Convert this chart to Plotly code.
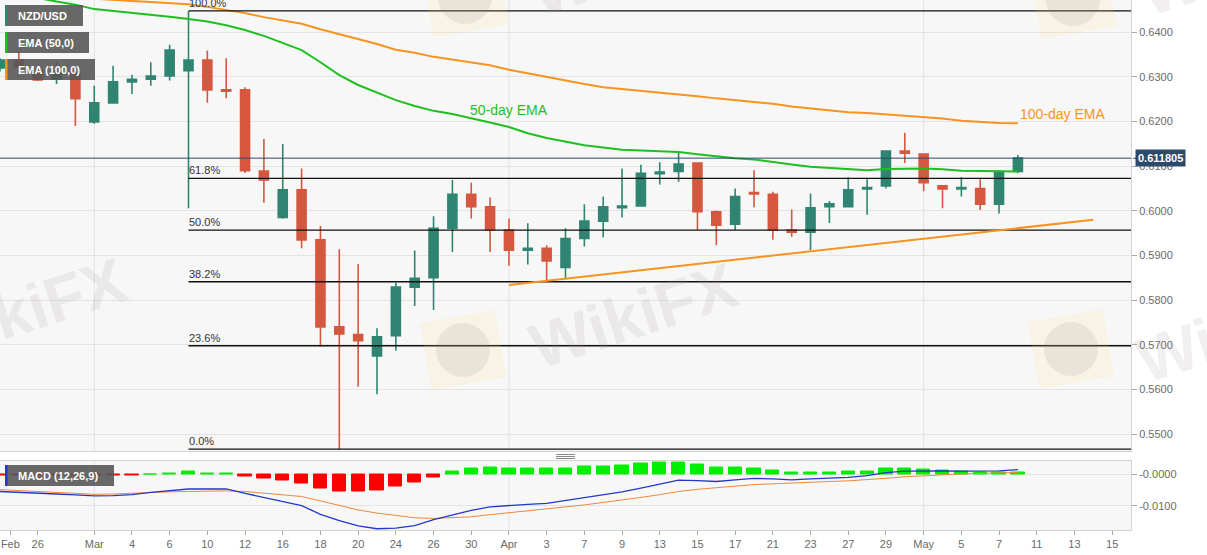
import math
import pandas as pd
import plotly.graph_objects as go

# ---------------- data ----------------
dates = [
    "2020-02-24", "2020-02-25", "2020-02-26", "2020-02-27", "2020-02-28",
    "2020-03-02", "2020-03-03", "2020-03-04", "2020-03-05", "2020-03-06",
    "2020-03-09", "2020-03-10", "2020-03-11", "2020-03-12", "2020-03-13",
    "2020-03-16", "2020-03-17", "2020-03-18", "2020-03-19", "2020-03-20",
    "2020-03-23", "2020-03-24", "2020-03-25", "2020-03-26", "2020-03-27",
    "2020-03-30", "2020-03-31", "2020-04-01", "2020-04-02", "2020-04-03",
    "2020-04-06", "2020-04-07", "2020-04-08", "2020-04-09", "2020-04-10",
    "2020-04-13", "2020-04-14", "2020-04-15", "2020-04-16", "2020-04-17",
    "2020-04-20", "2020-04-21", "2020-04-22", "2020-04-23", "2020-04-24",
    "2020-04-27", "2020-04-28", "2020-04-29", "2020-04-30", "2020-05-01",
    "2020-05-04", "2020-05-05", "2020-05-06", "2020-05-07", "2020-05-08",
]
open_ = [
    0.6320, 0.6338, 0.6314, 0.6295, 0.6311,
    0.6199, 0.6242, 0.6289, 0.6295, 0.6302,
    0.6314, 0.6338, 0.6271, 0.6271, 0.6089,
    0.5985, 0.6047, 0.5935, 0.5740, 0.5723,
    0.5675, 0.5720, 0.5829, 0.5850, 0.5961,
    0.6037, 0.6009, 0.5957, 0.5912, 0.5916,
    0.5873, 0.5938, 0.5977, 0.6007, 0.6011,
    0.6083, 0.6088, 0.6107, 0.5998, 0.5970,
    0.6041, 0.6037, 0.5957, 0.5952, 0.6009,
    0.6009, 0.6049, 0.6056, 0.6134, 0.6127,
    0.6056, 0.6049, 0.6050, 0.6015, 0.6088,
]
high_ = [
    0.6342, 0.6357, 0.6318, 0.6334, 0.6313,
    0.6280, 0.6325, 0.6305, 0.6333, 0.6372,
    0.6448, 0.6359, 0.6342, 0.6277, 0.6161,
    0.6150, 0.6095, 0.5966, 0.5914, 0.5881,
    0.5737, 0.5839, 0.5911, 0.5988, 0.6069,
    0.6063, 0.6030, 0.5983, 0.5972, 0.5923,
    0.5961, 0.6015, 0.6032, 0.6095, 0.6103,
    0.6109, 0.6130, 0.6109, 0.6001, 0.6050,
    0.6091, 0.6043, 0.6003, 0.6039, 0.6022,
    0.6075, 0.6071, 0.6136, 0.6175, 0.6128,
    0.6058, 0.6075, 0.6071, 0.6091, 0.6125,
]
low_ = [
    0.6312, 0.6316, 0.6291, 0.6284, 0.6190,
    0.6195, 0.6240, 0.6262, 0.6280, 0.6292,
    0.6006, 0.6242, 0.6252, 0.6085, 0.6018,
    0.5982, 0.5916, 0.5696, 0.5466, 0.5606,
    0.5589, 0.5687, 0.5787, 0.5778, 0.5908,
    0.5983, 0.5908, 0.5877, 0.5880, 0.5845,
    0.5849, 0.5920, 0.5941, 0.5985, 0.6010,
    0.6059, 0.6065, 0.5957, 0.5923, 0.5957,
    0.6008, 0.5935, 0.5942, 0.5912, 0.5973,
    0.6008, 0.5991, 0.6050, 0.6107, 0.6044,
    0.6006, 0.6032, 0.6002, 0.5994, 0.6084,
]
close_ = [
    0.6338, 0.6323, 0.6293, 0.6312, 0.6251,
    0.6242, 0.6289, 0.6295, 0.6302, 0.6360,
    0.6338, 0.6271, 0.6268, 0.6090, 0.6069,
    0.6047, 0.5935, 0.5740, 0.5724, 0.5709,
    0.5718, 0.5829, 0.5849, 0.5961, 0.6037,
    0.6009, 0.5957, 0.5912, 0.5916, 0.5888,
    0.5938, 0.5977, 0.6009, 0.6011, 0.6084,
    0.6087, 0.6105, 0.5998, 0.5968, 0.6032,
    0.6038, 0.5957, 0.5952, 0.6007, 0.6016,
    0.6047, 0.6052, 0.6134, 0.6129, 0.6063,
    0.6049, 0.6052, 0.6015, 0.6088, 0.611805,
]
ema50 = [
    0.6490, 0.6484, 0.6477, 0.6469, 0.6462,
    0.6452, 0.6448, 0.6444, 0.6440, 0.6435,
    0.6430, 0.6424, 0.6416, 0.6405, 0.6392,
    0.6376, 0.6360, 0.6333, 0.6304, 0.6282,
    0.6265, 0.6248, 0.6235, 0.6224, 0.6217,
    0.6208, 0.6198, 0.6188, 0.6174, 0.6163,
    0.6155, 0.6147, 0.6142, 0.6137, 0.6135,
    0.6133, 0.6132, 0.6127, 0.6122, 0.6118,
    0.6115, 0.6109, 0.6104, 0.6099, 0.6096,
    0.6094, 0.6091, 0.6094, 0.6095, 0.6095,
    0.6093, 0.6090, 0.6089, 0.6088, 0.6088,
]
ema100 = [
    0.6492, 0.6489, 0.6485, 0.6482, 0.6478,
    0.6475, 0.6473, 0.6470, 0.6468, 0.6466,
    0.6463, 0.6457, 0.6450, 0.6443, 0.6434,
    0.6426, 0.6419, 0.6407, 0.6396, 0.6385,
    0.6374, 0.6361, 0.6354, 0.6345, 0.6339,
    0.6333, 0.6326, 0.6316, 0.6308, 0.6299,
    0.6291, 0.6284, 0.6277, 0.6273, 0.6270,
    0.6266, 0.6262, 0.6257, 0.6252, 0.6248,
    0.6245, 0.6240, 0.6234, 0.6230, 0.6226,
    0.6221, 0.6219, 0.6216, 0.6214, 0.6210,
    0.6207, 0.6202, 0.6199, 0.6197, 0.6196,
]
macd_line = [
    -0.0054, -0.0056, -0.0059, -0.0062, -0.0065,
    -0.0068, -0.0067, -0.0064, -0.0057, -0.0052,
    -0.0046, -0.0046, -0.0046, -0.0060, -0.0073,
    -0.0084, -0.0099, -0.0127, -0.0147, -0.0164,
    -0.0173, -0.0171, -0.0163, -0.0144, -0.0128,
    -0.0114, -0.0103, -0.0098, -0.0095, -0.0092,
    -0.0083, -0.0073, -0.0064, -0.0055, -0.0043,
    -0.0030, -0.0018, -0.0019, -0.0022, -0.0017,
    -0.0012, -0.0014, -0.0017, -0.0014, -0.0012,
    -0.0009, -0.0003, 0.0006, 0.0011, 0.0012,
    0.0012, 0.0011, 0.0011, 0.0012, 0.0016,
]
signal_line = [
    -0.0048, -0.0051, -0.0054, -0.0057, -0.0060,
    -0.0063, -0.0062, -0.0059, -0.0057, -0.0055,
    -0.0054, -0.0052, -0.0052, -0.0054, -0.0059,
    -0.0063, -0.0070, -0.0084, -0.0099, -0.0113,
    -0.0123, -0.0131, -0.0138, -0.0140, -0.0138,
    -0.0135, -0.0128, -0.0122, -0.0117, -0.0111,
    -0.0105, -0.0097, -0.0089, -0.0082, -0.0073,
    -0.0064, -0.0054, -0.0047, -0.0041, -0.0037,
    -0.0032, -0.0029, -0.0026, -0.0023, -0.0022,
    -0.0020, -0.0017, -0.0012, -0.0007, -0.0003,
    -0.0001, 0.0002, 0.0004, 0.0006, 0.0007,
]
macd_hist = [
    -0.0003, -0.0003, -0.0003, -0.0003, -0.0003,
    -0.0003, -0.0003, -0.0003, 0.0000, 0.0005,
    0.0009, 0.0005, 0.0005, -0.0006, -0.0014,
    -0.0019, -0.0028, -0.0043, -0.0053, -0.0054,
    -0.0050, -0.0039, -0.0026, -0.0008, 0.0009,
    0.0019, 0.0022, 0.0021, 0.0020, 0.0018,
    0.0020, 0.0025, 0.0027, 0.0029, 0.0034,
    0.0038, 0.0039, 0.0031, 0.0024, 0.0023,
    0.0020, 0.0013, 0.0008, 0.0008, 0.0008,
    0.0009, 0.0010, 0.0018, 0.0019, 0.0016,
    0.0012, 0.0009, 0.0007, 0.0007, 0.0008,
]
fib_ratios = [1.0, 0.618, 0.5, 0.382, 0.236, 0.0]
fib_labels = ["100.0%", "61.8%", "50.0%", "38.2%", "23.6%", "0.0%"]
trend_dates = ["2020-04-01", "2020-05-14"]
trend_values = [0.5834, 0.5980]
tick_dates = [
    "2020-02-24", "2020-02-26", "2020-03-02", "2020-03-04", "2020-03-06",
    "2020-03-10", "2020-03-12", "2020-03-16", "2020-03-18", "2020-03-20",
    "2020-03-24", "2020-03-26", "2020-03-30", "2020-04-01", "2020-04-03",
    "2020-04-07", "2020-04-09", "2020-04-13", "2020-04-15", "2020-04-17",
    "2020-04-21", "2020-04-23", "2020-04-27", "2020-04-29", "2020-05-01",
    "2020-05-05", "2020-05-07", "2020-05-11", "2020-05-13", "2020-05-15",
]
month_starts = ["2020-03-02", "2020-04-01", "2020-05-01"]
legend_labels = ["NZD/USD", "EMA (50,0)", "EMA (100,0)"]
macd_label = "MACD (12,26,9)"

# ---------------- styles ----------------
GREEN_C = "#2f8571"
RED_C = "#d6573f"
EMA50_C = "#1fbf1f"
ORANGE = "#f7931e"
MACD_BLUE = "#2438c8"
SIG_OR = "#f0883a"
HIST_G = "#00ee00"
HIST_R = "#ff0000"
BG = "#f7f7f7"
GRID = "#e4e4e4"
AXLINE = "#d2d2d2"
TXT = "#6a6a6a"
FONT = "Liberation Sans, Arial, sans-serif"

W, H = 1207, 555
ML, MR, MT, MB = 0, 76, 0, 25
PW, PH = W - ML - MR, H - MT - MB


def pp(xp, yp):
    return xp / PW, 1 - yp / PH


# ---------------- trading-day axis ----------------
cal = pd.bdate_range("2020-02-24", "2020-05-15")
pos = {d.strftime("%Y-%m-%d"): i for i, d in enumerate(cal)}
x = [pos[d] for d in dates]

tick_vals, tick_text = [], []
for d in tick_dates:
    ts = pd.Timestamp(d)
    first = min(c for c in cal if c.month == ts.month)
    tick_text.append(ts.strftime("%b") if ts == first else str(ts.day))
    tick_vals.append(pos[d] + (0.55 if pos[d] == 0 else 0))

fig = go.Figure()

# candles
fig.add_trace(go.Candlestick(
    x=x, open=open_, high=high_, low=low_, close=close_,
    increasing=dict(line=dict(color=GREEN_C, width=1.6), fillcolor=GREEN_C),
    decreasing=dict(line=dict(color=RED_C, width=1.6), fillcolor=RED_C),
    whiskerwidth=0, hoverinfo="skip", showlegend=False, xaxis="x", yaxis="y"))

# EMAs
fig.add_trace(go.Scatter(x=x, y=ema100, mode="lines", line=dict(color=ORANGE, width=2),
                         hoverinfo="skip", showlegend=False))
fig.add_trace(go.Scatter(x=x, y=ema50, mode="lines", line=dict(color=EMA50_C, width=2),
                         hoverinfo="skip", showlegend=False))

# Fibonacci retracement
hi = max(high_)
lo = min(low_)
x_hi = x[high_.index(hi)]
x_end = len(cal)
for r, lab in zip(fib_ratios, fib_labels):
    lvl = lo + r * (hi - lo)
    fig.add_trace(go.Scatter(x=[x_hi, x_end], y=[lvl, lvl], mode="lines",
                             line=dict(color="#111111", width=1.3),
                             hoverinfo="skip", showlegend=False))
    fig.add_annotation(x=x_hi, y=lvl, xref="x", yref="y", text=lab, showarrow=False,
                       xanchor="left", yanchor="bottom", xshift=-2, yshift=0,
                       font=dict(size=11, color="#333333", family=FONT))

# trend line
fig.add_trace(go.Scatter(x=[pos[d] for d in trend_dates], y=trend_values, mode="lines",
                         line=dict(color=ORANGE, width=2), hoverinfo="skip", showlegend=False))

# MACD panel
fig.add_trace(go.Scatter(x=x, y=signal_line, mode="lines", line=dict(color=SIG_OR, width=1),
                         xaxis="x2", yaxis="y2", hoverinfo="skip", showlegend=False))
fig.add_trace(go.Scatter(x=x, y=macd_line, mode="lines", line=dict(color=MACD_BLUE, width=1.3),
                         xaxis="x2", yaxis="y2", hoverinfo="skip", showlegend=False))
hcol = [HIST_G if v >= 0 else HIST_R for v in macd_hist]
fig.add_trace(go.Bar(x=x, y=macd_hist, width=0.7,
                     marker=dict(color=hcol, line=dict(color=hcol, width=1)),
                     xaxis="x2", yaxis="y2", hoverinfo="skip", showlegend=False))

# ---------------- layout ----------------
main_dom = [1 - 451 / PH, 1]
macd_dom = [0, 1 - 460.5 / PH]
tickfont = dict(size=11, color=TXT, family=FONT)

fig.update_layout(
    width=W, height=H, margin=dict(l=ML, r=MR, t=MT, b=MB),
    paper_bgcolor="white", plot_bgcolor=BG, boxgap=0.32, bargap=0,
    showlegend=False, hovermode=False,
    font=dict(family=FONT, size=11, color=TXT),
    xaxis=dict(domain=[0, 1], range=[0, x_end], anchor="y", showticklabels=False, ticks="",
               showgrid=False, zeroline=False, rangeslider=dict(visible=False),
               showline=True, mirror=True, linecolor=AXLINE),
    xaxis2=dict(domain=[0, 1], matches="x", anchor="y2", tickmode="array",
                tickvals=tick_vals, ticktext=tick_text, ticks="outside", ticklen=4,
                tickcolor="#aaaaaa", showgrid=False, zeroline=False, showline=True,
                mirror=True, linecolor=AXLINE, tickfont=tickfont, ticklabeloverflow="allow"),
    yaxis=dict(domain=main_dom, range=[0.54619, 0.64724], side="right", tickmode="linear",
               tick0=0.55, dtick=0.01, tickformat=".4f", ticks="outside", ticklen=5,
               tickcolor="#aaaaaa", gridcolor=GRID, zeroline=False, showline=True,
               mirror=True, linecolor=AXLINE, tickfont=tickfont),
    yaxis2=dict(domain=macd_dom, range=[-0.0177, 0.0045], side="right", tickmode="array",
                tickvals=[0, -0.01], ticktext=["-0.0000", "-0.0100"], ticks="outside",
                ticklen=5, tickcolor="#aaaaaa", gridcolor=GRID, zeroline=False,
                showline=True, mirror=True, linecolor=AXLINE, tickfont=tickfont),
)

shapes = []
# month separators
for d in month_starts:
    for yr in ("y domain", "y2 domain"):
        shapes.append(dict(type="line", xref="x", yref=yr, x0=pos[d], x1=pos[d], y0=0, y1=1,
                           line=dict(color="#e2e2e2", width=1), layer="below"))

# current price line and tag
last_price = close_[-1]
shapes.append(dict(type="line", xref="paper", yref="y", x0=0, x1=1, y0=last_price,
                   y1=last_price, line=dict(color="#2c4a6b", width=1)))
fig.add_annotation(x=1, y=last_price, xref="paper", yref="y", xanchor="left", xshift=4,
                   text=f"<b>{last_price:.6f}</b>", showarrow=False, bgcolor="#2d4a6b",
                   borderpad=2, font=dict(size=11, color="white", family=FONT))
tx0 = 1131.5 / PW
tx1 = 1136 / PW
shapes.append(dict(type="path", xref="paper", yref="y",
                   path=f"M {tx0},{last_price} L {tx1},{last_price + 0.00017} L {tx1},{last_price - 0.00017} Z",
                   fillcolor="#2d4a6b", line=dict(width=0)))

# legend boxes (top-left) and MACD box
boxes = [(legend_labels[0], 5, 83, 5, 26, GREEN_C),
         (legend_labels[1], 5, 89, 32, 53, EMA50_C),
         (legend_labels[2], 5, 95, 59, 80, ORANGE),
         (macd_label, 5, 114, 465, 486, MACD_BLUE)]
for txt, bx0, bx1, by0, by1, bc in boxes:
    ax0, ay0 = pp(bx0, by0)
    ax1, ay1 = pp(bx1, by1)
    shapes.append(dict(type="rect", xref="paper", yref="paper", x0=ax0, x1=ax1, y0=ay1, y1=ay0,
                       fillcolor="rgba(88,88,88,0.9)", line=dict(width=0), layer="above"))
    cx0, _ = pp(bx0 + 2.5, 0)
    shapes.append(dict(type="rect", xref="paper", yref="paper", x0=ax0, x1=cx0, y0=ay1, y1=ay0,
                       fillcolor=bc, line=dict(width=0), layer="above"))
    tx, ty = pp(bx0 + 11, (by0 + by1) / 2)
    fig.add_annotation(x=tx, y=ty, xref="paper", yref="paper", xanchor="left", yanchor="middle",
                       text=f"<b>{txt}</b>", showarrow=False,
                       font=dict(size=11, color="white", family=FONT))

# EMA text labels
fig.add_annotation(x=pos["2020-04-01"], y=ema50[x.index(pos["2020-04-01"])], xref="x", yref="y",
                   text="50-day EMA", showarrow=False, yshift=17,
                   font=dict(size=14, color=EMA50_C, family=FONT))
fig.add_annotation(x=x[-1], y=ema100[-1], xref="x", yref="y", text="100-day EMA",
                   showarrow=False, xanchor="left", yshift=9,
                   font=dict(size=14, color=ORANGE, family=FONT))

# pane separator grip
for gy in (454.5, 456.5, 458.5):
    gx0, gyp = pp(556, gy)
    gx1, _ = pp(575, gy)
    shapes.append(dict(type="line", xref="paper", yref="paper", x0=gx0, x1=gx1, y0=gyp, y1=gyp,
                       line=dict(color="#8a8a8a", width=1)))


# watermark logos
def rot_rect(cx, cy, w, h, ang):
    a = math.radians(ang)
    pts = []
    for dx, dy in [(-w / 2, -h / 2), (w / 2, -h / 2), (w / 2, h / 2), (-w / 2, h / 2)]:
        rx = cx + dx * math.cos(a) - dy * math.sin(a)
        ry = cy + dx * math.sin(a) + dy * math.cos(a)
        pts.append(pp(rx, ry))
    return "M " + " L ".join(f"{p[0]:.5f},{p[1]:.5f}" for p in pts) + " Z"


for lcx, lcy in [(463, 350), (1071, 349), (465, -3), (1073, -1)]:
    shapes.append(dict(type="path", xref="paper", yref="paper", path=rot_rect(lcx, lcy, 76, 68, -10),
                       fillcolor="rgba(255,222,120,0.14)", line=dict(width=0), layer="above"))
    c0x, c0y = pp(lcx - 27, lcy - 27)
    c1x, c1y = pp(lcx + 27, lcy + 27)
    shapes.append(dict(type="circle", xref="paper", yref="paper", x0=c0x, x1=c1x, y0=c1y, y1=c0y,
                       fillcolor="rgba(140,130,130,0.13)", line=dict(width=0), layer="above"))

for wcx, wcy in [(22, 311), (633, 316), (1240, 330), (635, -37), (1243, -37)]:
    wx, wy = pp(wcx, wcy)
    fig.add_annotation(x=wx, y=wy, xref="paper", yref="paper", text="<b>WikiFX</b>",
                       showarrow=False, textangle=-18, xanchor="center", yanchor="middle",
                       font=dict(size=64, color="rgba(160,145,145,0.15)",
                                 family="Liberation Sans, Arial, sans-serif"))

fig.update_layout(shapes=shapes)

fig.write_html("out.html", config={"displayModeBar": False},
               post_script="document.body.style.margin='0';")
